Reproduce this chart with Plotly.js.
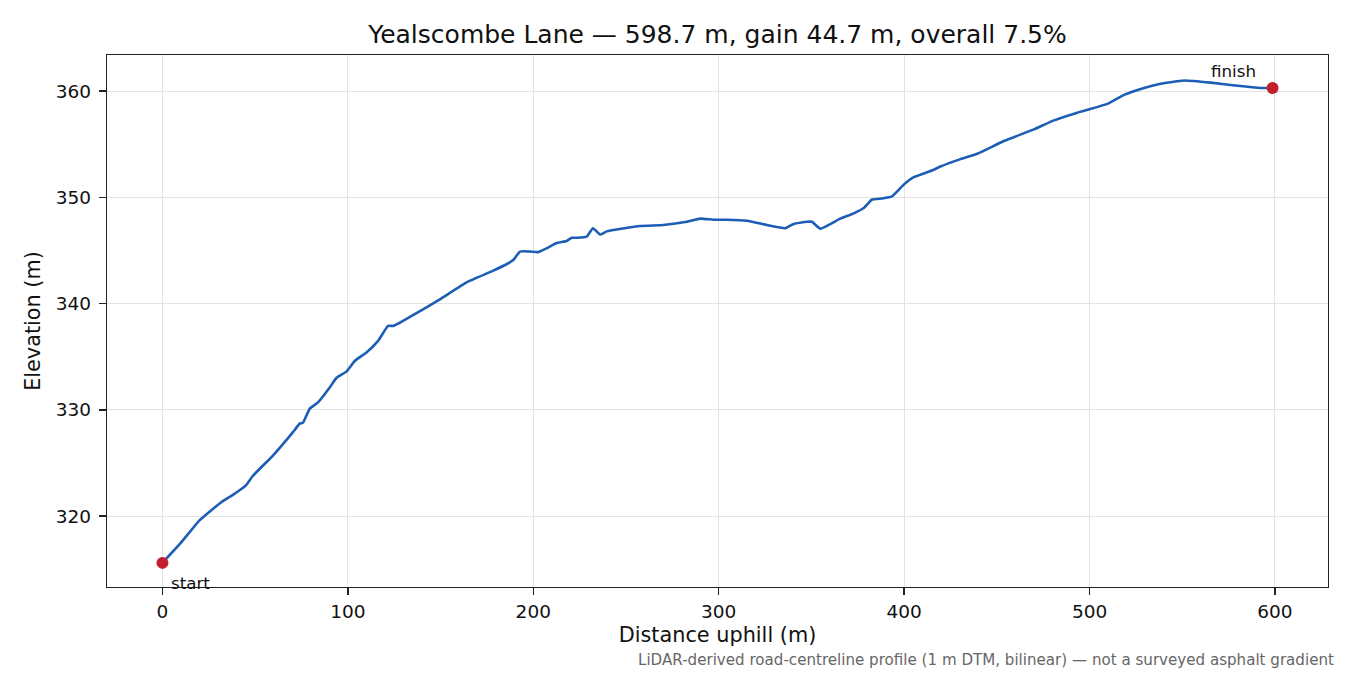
<!DOCTYPE html>
<html>
<head>
<meta charset="utf-8">
<script src="https://cdn.plot.ly/plotly-3.0.1.min.js"></script>
<style>
  html, body { margin: 0; padding: 0; background: #ffffff; }
  #chart { width: 1350px; height: 675px; }
</style>
</head>
<body>
<div id="chart"></div>
<script>
// road profile
const distance = [
    0, 10, 20, 31.7, 38, 45, 48.8, 59.6, 70.4, 74, 75.8, 79.4, 83.9, 90.2, 93.8,
    99.2, 103.7, 110, 116.3, 121.7, 124.4, 128, 137, 149.6, 164, 178.4, 186.5,
    189.2, 192.8, 198.2, 202.7, 207.2, 212.6, 218, 220.7, 223.4, 228.8, 232.2,
    236, 239.6, 257.6, 270.2, 282.8, 290, 297.2, 304.4, 315.2, 326, 335.9, 340.4,
    347.6, 350.3, 354.8, 365.6, 372.8, 378.2, 382.7, 388.1, 393.5, 399.8, 405.2,
    410.6, 416, 419.6, 430.4, 439.4, 453.8, 470, 480.8, 493.4, 509.6, 518.6,
    529.4, 538.4, 551, 565.4, 579.8, 592.4, 598.7
];
const elevation = [
    315.6, 317.5, 319.6, 321.3, 322.0, 322.9, 323.8, 325.7, 327.9, 328.7, 328.8,
    330.1, 330.7, 332.1, 333.0, 333.6, 334.6, 335.4, 336.5, 337.9, 337.9, 338.2,
    339.1, 340.4, 342.0, 343.1, 343.8, 344.1, 344.9, 344.9, 344.85, 345.2, 345.7,
    345.9, 346.2, 346.2, 346.3, 347.1, 346.5, 346.8, 347.3, 347.4, 347.7, 348.0,
    347.9, 347.9, 347.8, 347.4, 347.1, 347.5, 347.7, 347.7, 347.05, 348.0, 348.5,
    349.0, 349.8, 349.9, 350.1, 351.2, 351.9, 352.25, 352.6, 352.9, 353.6, 354.1,
    355.3, 356.4, 357.25, 357.97, 358.8, 359.65, 360.3, 360.7, 361.0, 360.8,
    360.5, 360.3, 360.3
];
const endLabels = ['start', 'finish'];
const xTicks = [0, 100, 200, 300, 400, 500, 600];
const yTicks = [320, 330, 340, 350, 360];

const titleText = 'Yealscombe Lane — 598.7 m, gain 44.7 m, overall 7.5%';
const footnote = 'LiDAR-derived road-centreline profile (1 m DTM, bilinear) — not a surveyed asphalt gradient';

const last = distance.length - 1;
const endX = [distance[0], distance[last]];
const endY = [elevation[0], elevation[last]];

const font = 'DejaVu Sans, sans-serif';

const profile = {
    x: distance,
    y: elevation,
    type: 'scatter',
    mode: 'lines',
    line: { color: '#1c5db5', width: 2.6, shape: 'spline', smoothing: 0.4 },
    hoverinfo: 'skip'
};

const ends = {
    x: endX,
    y: endY,
    type: 'scatter',
    mode: 'markers',
    marker: { color: '#c41e2c', size: 12 },
    hoverinfo: 'skip'
};

const axisStyle = {
    showline: true,
    linecolor: '#222222',
    linewidth: 1.3,
    mirror: true,
    ticks: 'outside',
    ticklen: 7,
    tickwidth: 1.3,
    tickcolor: '#222222',
    showgrid: true,
    gridcolor: '#e3e3e3',
    gridwidth: 1,
    zeroline: false,
    tickfont: { family: font, size: 18.5, color: '#111111' }
};

const layout = {
    width: 1350,
    height: 675,
    paper_bgcolor: '#ffffff',
    plot_bgcolor: '#ffffff',
    showlegend: false,
    margin: { l: 107, r: 22, t: 55, b: 88 },
    title: {
        text: titleText,
        font: { family: font, size: 25, color: '#111111' },
        xref: 'paper', x: 0.5, xanchor: 'center',
        yref: 'container', y: 1 - 34 / 675, yanchor: 'middle'
    },
    xaxis: {
        ...axisStyle,
        range: [-29.9, 628.6],
        tickvals: xTicks,
        title: { text: 'Distance uphill (m)', font: { family: font, size: 20.8, color: '#111111' }, standoff: 7 }
    },
    yaxis: {
        ...axisStyle,
        range: [313.33, 363.4],
        tickvals: yTicks,
        ticklabelstandoff: 4,
        title: { text: 'Elevation (m)', font: { family: font, size: 20.8, color: '#111111' }, standoff: 9 }
    },
    annotations: [
        {
            x: endX[0], y: endY[0], xref: 'x', yref: 'y',
            text: endLabels[0], showarrow: false,
            xanchor: 'left', yanchor: 'middle', xshift: 7, yshift: -20,
            font: { family: font, size: 16.7, color: '#111111' }
        },
        {
            x: endX[1], y: endY[1], xref: 'x', yref: 'y',
            text: endLabels[1], showarrow: false,
            xanchor: 'right', yanchor: 'middle', xshift: -15, yshift: 17,
            font: { family: font, size: 16.7, color: '#111111' }
        },
        {
            x: (1336 - 107) / 1221, y: (587 - 660) / 532, xref: 'paper', yref: 'paper',
            text: footnote, showarrow: false,
            xanchor: 'right', yanchor: 'middle',
            font: { family: font, size: 15.1, color: '#666666' }
        }
    ]
};

Plotly.newPlot('chart', [profile, ends], layout, { displayModeBar: false, staticPlot: true });
</script>
</body>
</html>
